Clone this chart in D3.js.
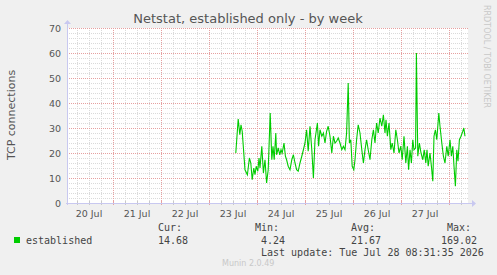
<!DOCTYPE html>
<html lang="en">
<head>
<meta charset="UTF-8">
<title>Netstat, established only - by week</title>
<style>
  body { margin: 0; background: #F0F0F0; }
  svg { display: block; }
  text { font-family: "DejaVu Sans", sans-serif; fill: #555; }
  .mono { font-family: "DejaVu Sans Mono", monospace; font-size: 10px; fill: #444; }
</style>
</head>
<body>
<script src="https://cdnjs.cloudflare.com/ajax/libs/d3/7.8.5/d3.min.js"></script>
<script>
'use strict';
// data: hours after 23 Jul 00:00, connections
const hours = [13.4, 14.6, 15.4, 16, 16.6, 18, 19.2, 20.2, 20.9, 21.6, 22.4, 23, 23.6, 24.4, 25, 25.5,
  26.4, 27.2, 28, 28.8, 29.6, 30.6, 31.4, 32, 32.6, 33.4, 33.8, 34.6, 35.4, 36, 36.6, 37.5, 38.2,
  38.8, 39.6, 40.5, 41.4, 42.2, 43, 43.8, 44.6, 45.5, 46.4, 47.2, 48, 48.8, 49.6, 50.5, 51.4, 52.2,
  53, 54.2, 54.8, 55.5, 56.4, 57.2, 58, 58.8, 59.6, 60.5, 61.4, 62.2, 63, 63.8, 64.6, 65.5, 66.4,
  67.2, 68, 68.8, 69.6, 70.2, 70.9, 71.6, 72.4, 73, 73.8, 74.6, 75.5, 76.4, 77.2, 78, 78.8, 79.6,
  80.5, 81.4, 82.2, 83, 83.8, 84.6, 85.5, 86.4, 87.2, 88, 88.5, 89.2, 90, 90.9, 91.6, 92.5, 93.4,
  94.2, 95, 95.9, 96.6, 97.5, 98.4, 99.2, 99.8, 100.5, 101.2, 101.9, 102.5, 103.3, 103.7, 104.4,
  105.2, 106, 106.9, 107.6, 108.4, 109, 109.6, 110.5, 111.2, 111.9, 112.5, 113.2, 113.9, 114.9,
  115.5, 116.4, 117.2, 118, 118.9, 119.6, 120.5, 121.2, 121.9, 122.5, 123.2, 123.9, 124.5, 125.2,
  126, 126.9, 127.4, 128];
const established = [20, 33.6, 27.3, 31.3, 28.7, 13.3, 11.3, 18, 16, 9.3, 14, 11.3, 14.7, 12.7, 18, 14,
  22.7, 12, 17.3, 8, 13.3, 36, 17.3, 22.7, 17.3, 28, 19.3, 22, 19.3, 21.3, 20, 24, 18.7,
  17.3, 14.7, 13.3, 17.3, 19.3, 16, 13.3, 12.7, 16, 18.7, 21.3, 24, 29.3, 20.7, 30.7, 21.3, 10,
  25.3, 32, 22.7, 29.3, 26.7, 28, 24, 28.7, 30.7, 26.7, 20, 26.7, 24, 24.7, 26, 24, 21.3,
  22.7, 21.3, 28, 48, 24, 25.3, 14.7, 13.3, 17.3, 25.3, 31.3, 28, 21.3, 16, 21.3, 25.3, 21.3,
  17.3, 25.3, 29.3, 24, 32, 28, 34, 30.7, 35.3, 28, 33.3, 26.7, 32, 21.3, 24, 20, 29.3,
  25.3, 20, 22.7, 17.3, 26.7, 16, 22.7, 13.3, 21.3, 16, 25.3, 21.3, 22, 60, 18.7,
  24, 20, 17.3, 21.3, 16, 21.3, 14.7, 20, 14.7, 8.7, 26.7, 29.3, 25.3, 36,
  30.7, 24, 18.7, 16, 22.7, 18.7, 25.3, 18.7, 22.7, 14.7, 6.7, 21.3, 16.7, 25.3,
  26.7, 28.7, 30, 26.7];
const dayLabels = ['20 Jul', '21 Jul', '22 Jul', '23 Jul', '24 Jul', '25 Jul', '26 Jul', '27 Jul'];
const yTicks = [0, 10, 20, 30, 40, 50, 60, 70];
const legendHeads = ['Cur:', 'Min:', 'Avg:', 'Max:'];
const legendValues = ['14.68', '4.24', '21.67', '169.02'];

const W = 497, H = 275;
const svg = d3.select('body').append('svg').attr('width', W).attr('height', H);

const base = Date.UTC(2026, 6, 23, 0, 0);
const x = d3.scaleUtc()
  .domain([new Date(Date.UTC(2026, 6, 20, 1, 0)), new Date(Date.UTC(2026, 6, 28, 9, 30))])
  .range([67, 468]);
const y = d3.scaleLinear().domain([0, 70]).range([203, 28]);

// canvas
svg.append('rect').attr('x', 67).attr('y', 28).attr('width', 401).attr('height', 175)
  .attr('fill', '#FFFFFF');

const grid = svg.append('g').attr('shape-rendering', 'crispEdges');
// minor grid
const minorX = d3.utcHour.every(6).range(x.domain()[0], x.domain()[1]);
grid.selectAll('.vmin').data(minorX.filter(d => d.getUTCHours() !== 0)).enter().append('line')
  .attr('x1', d => Math.round(x(d)) + 0.5).attr('x2', d => Math.round(x(d)) + 0.5)
  .attr('y1', 28).attr('y2', 203)
  .attr('stroke', '#DADADA').attr('stroke-dasharray', '1,1');
grid.selectAll('.hmin').data(d3.range(2, 70, 2).filter(v => v % 10 !== 0)).enter().append('line')
  .attr('x1', 67).attr('x2', 468)
  .attr('y1', d => Math.round(y(d)) + 0.5).attr('y2', d => Math.round(y(d)) + 0.5)
  .attr('stroke', '#DADADA').attr('stroke-dasharray', '1,1');
// major grid
const days = d3.utcDay.range(x.domain()[0], x.domain()[1]);
grid.selectAll('.vmaj').data(days).enter().append('line')
  .attr('x1', d => Math.round(x(d)) + 0.5).attr('x2', d => Math.round(x(d)) + 0.5)
  .attr('y1', 28).attr('y2', 203)
  .attr('stroke', '#E6A0A0').attr('stroke-dasharray', '1,1');
grid.selectAll('.hmaj').data(yTicks.slice(1)).enter().append('line')
  .attr('x1', 67).attr('x2', 468)
  .attr('y1', d => Math.round(y(d)) + 0.5).attr('y2', d => Math.round(y(d)) + 0.5)
  .attr('stroke', '#E6A0A0').attr('stroke-dasharray', '1,1');

// y tick labels
svg.selectAll('.ylab').data(yTicks).enter().append('text')
  .attr('x', 61).attr('y', d => y(d) + 3.5)
  .attr('text-anchor', 'end').attr('font-size', '9.5px')
  .text(d => d);

// x labels at noon
svg.selectAll('.xlab').data(dayLabels).enter().append('text')
  .attr('x', (d, i) => x(new Date(Date.UTC(2026, 6, 20 + i, 12))))
  .attr('y', 217).attr('text-anchor', 'middle').attr('font-size', '9.5px')
  .text(d => d);

// ticks on x axis
svg.selectAll('.xt').data(minorX).enter().append('line')
  .attr('x1', d => Math.round(x(d)) + 0.5).attr('x2', d => Math.round(x(d)) + 0.5)
  .attr('y1', 201).attr('y2', 205)
  .attr('stroke', d => d.getUTCHours() === 0 ? '#E6A0A0' : '#C8C8C8')
  .attr('shape-rendering', 'crispEdges');

// axes with arrows
const axisCol = '#C8C8F0';
svg.append('line').attr('x1', 66).attr('x2', 472).attr('y1', 203.5).attr('y2', 203.5)
  .attr('stroke', axisCol).attr('shape-rendering', 'crispEdges');
svg.append('line').attr('x1', 67.5).attr('x2', 67.5).attr('y1', 205).attr('y2', 24)
  .attr('stroke', axisCol).attr('shape-rendering', 'crispEdges');
svg.append('path').attr('d', 'M472,200 L476,203.5 L472,207 Z').attr('fill', axisCol);
svg.append('path').attr('d', 'M64,24 L67.5,20 L71,24 Z').attr('fill', axisCol);

// series
const pts = hours.map((h, i) => ({ t: new Date(base + h * 3600e3), v: established[i] }));
svg.append('path').datum(pts)
  .attr('d', d3.line().x(d => x(d.t)).y(d => y(d.v)))
  .attr('fill', 'none').attr('stroke', '#00CC00').attr('stroke-width', 1.1);

// title
svg.append('text').attr('x', 248).attr('y', 23).attr('text-anchor', 'middle')
  .attr('font-size', '13px').text('Netstat, established only - by week');

// y label
svg.append('text').attr('transform', 'translate(15,115) rotate(-90)')
  .attr('text-anchor', 'middle').attr('font-size', '11px').text('TCP connections');

// rrdtool credit
svg.append('text').attr('transform', 'translate(484,5) rotate(90)')
  .attr('font-size', '8px').style('fill', '#C8C8C8').text('RRDTOOL / TOBI OETIKER');

// legend
svg.append('rect').attr('x', 14).attr('y', 237).attr('width', 6).attr('height', 6)
  .attr('fill', '#00CC00');
svg.append('text').attr('class', 'mono').attr('x', 26).attr('y', 243.5).text('established');
const headX = [158, 255, 351, 447];
const valX = [158, 261, 351, 441];
svg.selectAll('.lh').data(legendHeads).enter().append('text').attr('class', 'mono')
  .attr('x', (d, i) => headX[i]).attr('y', 231).text(d => d);
svg.selectAll('.lv').data(legendValues).enter().append('text').attr('class', 'mono')
  .attr('x', (d, i) => valX[i]).attr('y', 243.5).text(d => d);
svg.append('text').attr('class', 'mono').attr('x', 261).attr('y', 255.5)
  .text('Last update: Tue Jul 28 08:31:35 2026');

svg.append('text').attr('x', 222).attr('y', 266).attr('font-size', '8px')
  .style('fill', '#C8C8C8').text('Munin 2.0.49');
</script>
</body>
</html>
